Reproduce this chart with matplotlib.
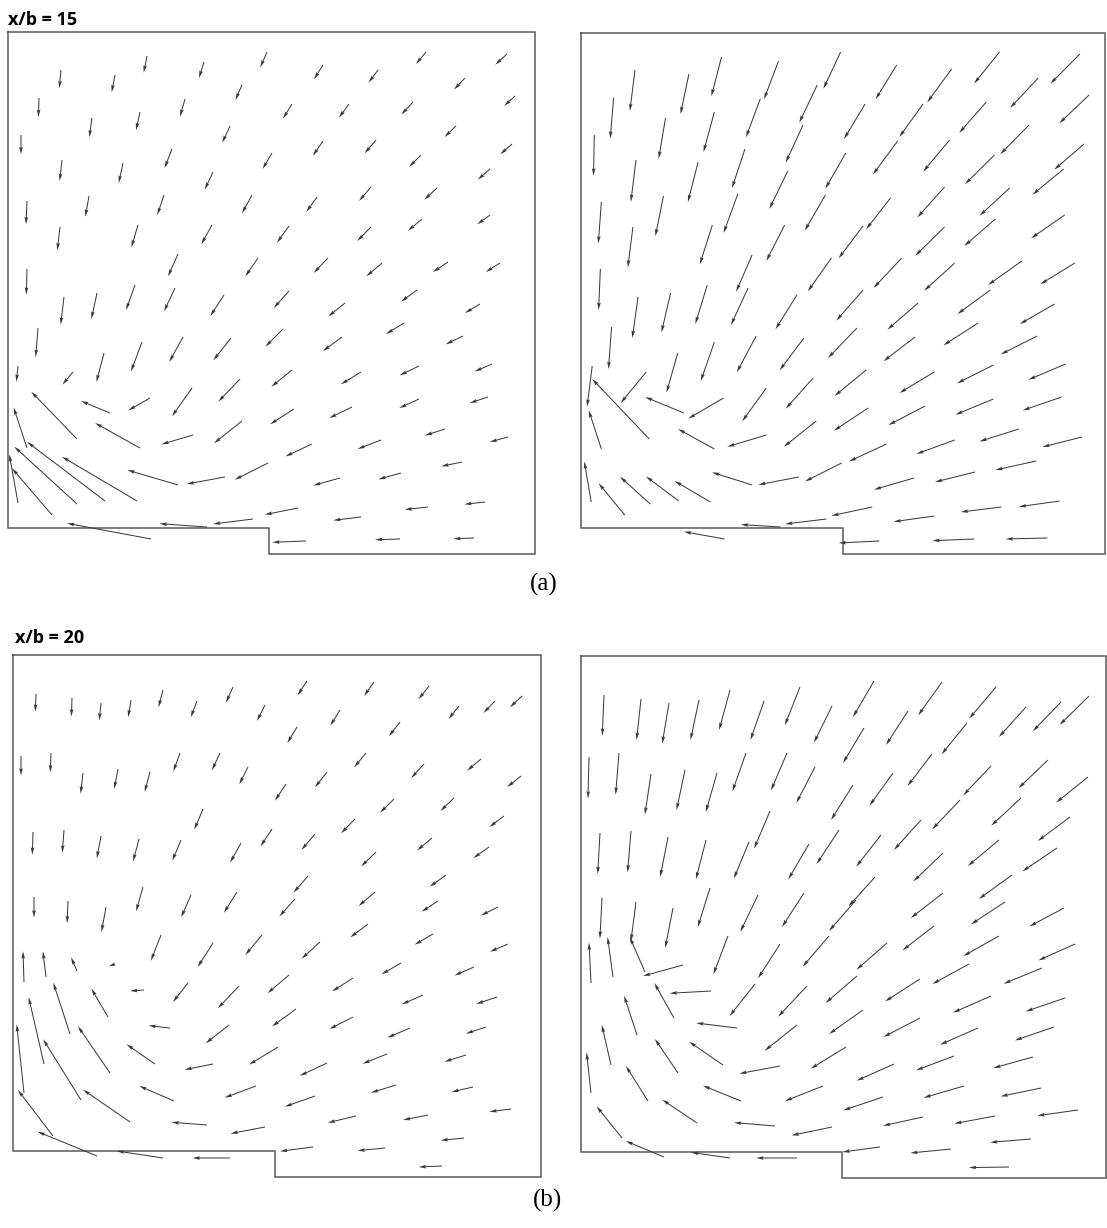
import numpy as np
import matplotlib
matplotlib.use("Agg")
import matplotlib.pyplot as plt

# ---------------- data: panel (a) x/b = 15, left ----------------
AL_X = [53,31,13,107,139,196,259,234,177,84,
        132,222,164,54,115,264,205,19,81,156,
        244,52,130,204,170,250,19,56,89,127,
        167,216,30,134,175,223,96,65,10,232,
        184,142,102,69,19,132,234,185,69,97,
        129,44,10,170,217,260,245,199,143,315,
        370,418,499,457,284,341,405,507,448,315,
        368,413,504,482,309,363,429,281,363,414,
        482,320,374,440,492,281,337,409,472,275,
        334,396,455,284,353,411,484,286,344,411,
        480,437,500,304,373,454,332,393,477,420,
        290,353,298,392,466]
AL_Y = [458,430,393,453,472,466,476,443,429,410,
        416,402,379,368,365,375,356,327,332,333,
        333,301,303,303,274,270,259,231,235,243,
        240,233,200,186,191,190,175,156,162,149,
        140,130,115,89,80,80,107,93,24,27,
        27,13,25,43,51,65,9,1,-11,463,
        458,476,474,450,424,424,426,432,402,387,
        388,373,384,359,331,341,340,302,301,309,
        313,270,265,266,265,237,225,238,224,199,
        191,205,192,158,156,162,164,119,121,129,
        131,99,91,84,88,66,50,55,26,21,
        20,11,-13,-11,-10]
AL_U = [-1.7,-0.6,0,-3.3,-3.3,-5,-6.7,-6.6,-5,-2.7,
        -4,-7.7,-7.4,-2.3,-4.3,-9.4,-8.3,-1,-3.6,-6.7,
        -10,-2.7,-6.6,-10.7,-10,-12.7,-0.7,-3.3,-5.6,-9,
        -11,-13.6,-2.3,-11,-13.7,-17.7,-7.6,-10.6,-1.6,-21.7,
        -20,-21.7,-29,-45.7,-13.4,-45,-28,-31.6,-62.7,-77.7,
        -75,-40,-8.7,-50.6,-38.3,-33.3,-40,-47.4,-84,-9,
        -9.4,-10,-11.7,-11,-9,-10,-11.6,-11,-11.4,-10,
        -11.4,-11.7,-11.7,-12.3,-10.7,-12,-12.7,-12,-13.7,-14,
        -12.7,-14.3,-15.7,-15,-14.3,-15.3,-16.7,-16,-15,-17.6,
        -19,-18,-17.3,-20.6,-20,-19.3,-17.3,-24,-22.7,-19.7,
        -18.3,-20,-18.3,-26.6,-23.4,-20.7,-26.7,-22.7,-20.7,-23.3,
        -33.3,-27.7,-33.7,-25,-20.7]
AL_V = [-18.3,-19,-19.3,-17.3,-16.7,-16,-15.4,-15,-17.7,-19.4,
        -18.3,-16.7,-19,-21,-20,-16,-17.6,-23.3,-20.7,-20,
        -18.3,-23.3,-22.3,-19.3,-22.4,-18.4,-25.7,-27.7,-26,-25,
        -23.4,-21,-29,-29.4,-25,-22.3,-29,-12.6,-15.7,-22.7,
        -28.3,-12.3,12,47.3,40.6,25,-22.3,-9.3,57.3,59,
        44.3,46.7,48.7,15,-7,-16.7,-5,3.3,15.7,-14.3,
        -12.7,-12,-10.7,-11.6,-14.7,-13.7,-12.6,-10,-11,-14.7,
        -13.3,-11.7,-10.3,-10.7,-15,-14,-11.7,-16.7,-14,-11.7,
        -9.3,-15,-13.4,-10,-9,-17,-13.4,-11.7,-9,-17.7,
        -14,-11,-8.3,-16.7,-12.3,-9.3,-7.4,-15.3,-11,-9,
        -6,-6.4,-5,-12.4,-9,-4.3,-7.4,-6.3,-2.3,-2.6,
        -6.6,-3.3,-1.3,-0.7,-0.7]

# ---------------- data: panel (a) x/b = 15, right ----------------
AR_X = [53,32,13,106,138,194,255,232,176,83,
        131,310,364,411,490,449,499,398,336,279,
        218,161,54,115,311,260,362,440,406,494,
        474,203,20,81,154,240,304,357,421,475,
        407,357,277,200,129,51,19,315,367,433,
        485,246,168,56,88,124,164,212,277,331,
        402,465,30,131,95,172,219,271,328,390,
        448,64,11,182,228,280,347,405,476,101,
        140,67,20,131,182,231,282,338,405,472,
        300,367,430,492,10,43,68,96,127,168,
        214,256,327,387,447,286,241,196,141,347,
        413,470,293,386,458]
AR_Y = [458,430,393,454,471,467,476,443,429,410,
        416,463,459,476,474,450,433,426,424,424,
        403,379,368,366,387,375,388,403,373,384,
        359,357,326,332,334,333,330,341,340,313,
        309,301,302,303,303,301,259,270,265,267,
        265,270,273,231,235,243,240,233,238,225,
        238,224,201,186,175,192,190,200,191,205,
        192,156,162,140,150,158,156,163,164,115,
        130,89,79,79,93,107,120,122,129,131,
        84,88,99,91,26,13,24,27,26,43,
        51,65,50,56,67,21,9,1,-11,12,
        21,27,-13,-11,-10]
AR_U = [-5,-3.3,-0.7,-8.3,-10,-14.3,-17,-17.7,-14,-6.7,
        -10.7,-20.7,-24,-25,-29,-27.7,-29.3,-26.6,-23.4,-20.7,
        -17,-12.7,-5,-10,-24.4,-20,-26,-28.3,-29,-29.3,
        -30.7,-18,-3,-8,-14,-20.3,-24,-26.7,-29.6,-33,
        -30.6,-28.7,-24,-18,-12.3,-5,-1.7,-27.7,-30,-33.3,
        -34,-23.3,-15.7,-5.6,-9,-11.7,-16.7,-21,-26.3,-30,
        -32.3,-34,-3,-13.4,-11,-19,-24,-28.4,-31,-34,
        -35.7,-25,-5,-23.7,-27,-31,-34.3,-35.7,-36.6,-38,
        -34.7,-56,-12.4,-35.7,-38.3,-31.7,-33.7,-36,-37.4,-38.3,
        -36.7,-37.7,-38.7,-39,-6.7,-25.7,-29.7,-32.3,-35,-39.3,
        -40,-36,-39.3,-39.4,-40,-40,-40.6,-39,-40,-40,
        -40,-40,-40,-41,-41]
AR_V = [-41,-40.6,-40.7,-40,-39.3,-38.3,-36.7,-37.7,-38.3,-40.7,
        -40,-34.3,-33.4,-31.7,-29.7,-30,-28.3,-31,-33,-35,
        -37.7,-39,-41.7,-40,-33.6,-35.6,-31.7,-29.3,-29.3,-25.7,
        -25.7,-38,-41.6,-40.3,-39,-35.7,-31.3,-30.4,-27.7,-23.3,
        -27,-28.7,-32.3,-36,-39.3,-40.4,-41,-30,-27.7,-24,
        -21.3,-33.4,-36.7,-41,-39.4,-39,-37,-34.3,-30.7,-26.6,
        -24,-20,-42,-39,-39.6,-36.3,-32.3,-30,-24.3,-22.3,
        -18.3,-31,-40.7,-33.3,-30.7,-26,-21,-18.3,-15.7,16,
        -20.6,60,38.6,20,-11.7,-25.7,-22.7,-19,-15.7,-13.4,
        -17.4,-14,-12.4,-10,40.6,31.7,27.3,24.7,21,12.7,
        -7.7,-18.4,-11.6,-10,-9,-8.7,-5,2.4,7.3,-5.7,
        -5,-5.7,-2,-1.7,-1]

# ---------------- data: panel (b) x/b = 20, left ----------------
BL_X = [23,59,88,118,150,184,220,252,294,361,
        416,446,482,509,327,284,387,8,38,70,
        105,137,167,207,235,273,314,353,411,468,
        508,381,441,20,51,88,126,168,190,228,
        259,302,342,419,491,363,476,433,295,21,
        55,93,130,178,224,282,362,425,485,148,
        200,249,307,355,420,495,11,33,64,102,
        175,226,276,340,388,461,131,410,484,57,
        31,95,157,216,283,340,397,473,11,68,
        97,142,200,265,314,374,453,161,117,40,
        84,243,302,383,460,498,194,252,343,415,
        300,372,451,150,217,429]
BL_Y = [457,453,448,451,461,450,464,446,470,469,
        465,445,450,455,441,424,429,395,398,378,
        382,379,398,398,384,367,379,398,387,392,
        375,352,353,319,321,315,312,311,342,308,
        322,317,332,313,335,299,304,276,275,254,
        250,244,264,256,259,252,259,250,244,216,
        208,216,209,227,217,207,169,174,180,187,
        168,165,176,173,188,184,161,156,154,117,
        87,134,123,126,142,134,123,124,58,51,
        78,87,87,104,88,97,96,50,29,15,
        -5,65,55,66,64,42,26,24,35,36,
        4,3,13,-7,-7,-15]
BL_U = [-0.7,-0.6,-1.7,-2.8,-4.5,-6.2,-7,-8,-9.4,-10,
        -10.5,-10.4,-11.5,-12.1,-9.7,-9.7,-11.1,0,-0.7,-2.4,
        -3.8,-5.3,-6.6,-8,-8.7,-11.1,-12.1,-11.9,-12.8,-13.9,
        -13.9,-13.9,-13.6,-0.7,-1.7,-4.2,-5.9,-8.7,-8.7,-10.8,
        -11.5,-13.6,-13.9,-14.9,-14.6,-14.9,-15.6,-16.3,-14.6,0,
        -0.9,-4.5,-6.9,-9.8,-13.2,-15.6,-16.4,-16.4,-17,-10.1,
        -15.3,-16.7,-18.4,-17.7,-18.4,-18.1,-1,-3.1,-5.9,-6.3,
        -15,-21.2,-21.6,-20.9,-19.5,-19.5,-13.9,-21.2,-20.8,-16.7,
        -15.3,-16.6,-21.5,-23.3,-23.9,-23.6,-22.6,-20.1,-7.3,-37.8,
        -32,-28.5,-28.5,-28.9,-27.1,-24.4,-21.6,-34.8,-46.9,-35.1,
        -59.4,-31.3,-30.3,-25,-21.5,-21.6,-35.4,-34.5,-28.2,-25,
        -33,-27.5,-23.3,-46.3,-37.5,-23.3]
BL_V = [-17.7,-18.4,-17.4,-17.3,-17.3,-16.3,-15.6,-16,-14.3,-14,
        -13.3,-13,-12,-11.3,-15.7,-16,-14.3,-19.7,-19.4,-20.7,
        -20,-20,-18.3,-17.3,-17.3,-16.7,-15.4,-14.4,-14,-11.7,
        -11,-13.7,-13,-22.7,-22.7,-22.3,-22.4,-20.7,-20.7,-19.6,
        -17.4,-16,-14.3,-12.4,-11,-14.4,-11,-11.7,-16.7,-20.6,
        -22.3,-25,-24.3,-22.3,-21,-17.4,-14,-10.7,-8.4,-25.7,
        -24,-20,-16.7,-13.4,-10.7,-7.7,30.7,25.7,13.7,-2.4,
        -19,-22.3,-18.3,-13.4,-11.3,-8.4,-1,-9.3,-7,51.3,
        66.7,28.4,2.4,-18.3,-17.4,-12,-9.6,-6.6,68.7,60.7,
        46.7,19.7,-5.7,-17.6,-12.7,-9.7,-6.7,15,32.3,46,
        24.3,-11.6,-10.7,-7.7,-5,-2.7,2.7,-6.6,-6.7,-5,
        -4.3,-2.7,-2.4,7,0,-1]

# ---------------- data: panel (b) x/b = 20, right ----------------
BR_X = [23,60,88,118,149,183,219,251,293,361,
        415,445,480,508,327,283,386,8,38,70,
        104,136,165,206,234,272,312,351,410,467,
        507,379,440,19,50,87,125,168,189,228,
        258,300,340,418,489,362,476,431,294,21,
        55,92,129,177,223,275,362,424,483,147,
        199,248,306,353,418,494,10,32,64,102,
        130,174,226,276,339,388,461,410,484,56,
        30,93,156,216,282,339,397,473,10,67,
        97,142,199,265,313,373,452,160,116,41,
        83,242,302,383,460,497,194,251,342,414,
        299,370,450,149,216,428]
BR_Y = [457,453,449,452,462,451,465,446,471,470,
        465,445,450,456,441,424,429,395,399,378,
        382,379,399,399,385,367,379,398,386,392,
        375,352,354,319,321,315,312,310,341,308,
        322,317,332,312,335,299,304,277,275,254,
        250,244,264,257,259,252,259,250,244,216,
        208,216,209,226,216,208,169,175,180,187,
        161,168,166,176,173,188,184,156,154,117,
        87,134,124,127,142,134,124,125,59,51,
        79,87,86,105,88,96,95,51,29,14,
        -5,66,55,66,64,42,26,25,35,36,
        5,3,13,-6,-6,-15]
BR_U = [-1.7,-4.4,-6.8,-8.5,-10.9,-13.5,-15.2,-18,-21,-23.8,
        -26.8,-27.1,-28.2,-29.5,-22,-21,-25.4,-1,-3.4,-6.1,
        -8.5,-11.2,-13.6,-16,-18.7,-22,-23.5,-24.5,-27.8,-29.6,
        -31.9,-27.8,-29.8,-2.3,-3.4,-7.8,-10.1,-15.2,-15.9,-20.7,
        -22.4,-24.8,-27.1,-31.2,-32.2,-29.6,-34.7,-33.2,-26.4,-2.1,
        -5.1,-7.8,-12.2,-17.6,-22,-27,-32.2,-34,-34.6,-14.6,
        -22,-26.4,-30.5,-31.5,-35.7,-36.6,-2,-5.4,-15.3,-40,
        -41.4,-25.4,-28.9,-31.5,-34.9,-36.6,-38.4,-38,-39.3,-12.9,
        -9.2,-19.7,-40.8,-32.3,-33.9,-36.6,-38,-39.1,-4.4,-22.1,
        -23.1,-33.9,-40.7,-35.3,-37.4,-38,-39.7,-38,-34.7,-25.4,
        -38.3,-38,-39.7,-40.4,-40.4,-40.7,-41,-40.4,-40,-40.7,
        -37.6,-40.7,-41,-39,-40.8,-40.1]
BR_V = [-40.7,-41,-40.7,-40,-40,-39,-38.3,-36.6,-36,-33.4,
        -31.6,-30,-29.3,-29,-34,-35,-31.3,-41.6,-41.7,-40.7,
        -40,-39,-38.4,-37.4,-36,-35,-32.7,-32,-29.3,-28.3,
        -25.6,-29.3,-27.7,-41,-41.3,-40,-39.3,-36.6,-37.6,-35.3,
        -34,-31.7,-30,-26,-24,-28.4,-23.4,-24,-29.3,-40.6,
        -39.4,-40,-39,-36.7,-34,-31,-25,-22.3,-18.4,-38.3,
        -34.3,-30.7,-26.7,-24.3,-20,-16.4,40.4,40,35,-11,
        -2.3,-32,-30.7,-27,-22.4,-20,-15.7,-16.6,-13.4,39.3,
        40,35,5,-25.7,-24,-19,-16.7,-13.4,40.6,35,
        34,23.3,-7.6,-21.7,-16.7,-14.3,-11,15.3,23.3,31.7,
        16,-15,-13.3,-11.7,-8.4,-5.7,3.4,-8.4,-8.7,-7.6,
        -5,-4,-3.4,5.6,0,-0.6]

# duct cross-section outline (local units: width, height above wall, step position, step depth)
DUCT_W = [527, 514.6, 527.5, 525]
DUCT_H = [496, 495, 496, 496]
STEP_X = [261, 257.3, 261.6, 261]
STEP_D = [-26, -26, -26.3, -26.3]

PANEL_LABELS = ["(a)", "(b)"]
ROW_TITLES = ["x/b = 15", "x/b = 20"]

# ---------------- figure ----------------
W, H = 1107, 1228
fig = plt.figure(figsize=(W / 100, H / 100), dpi=100)
fig.patch.set_facecolor("white")

# pixel boxes for the four panels (left, top, right, bottom)
boxes = [(8, 32, 535, 554), (581, 33, 1105, 554),
         (13, 655, 540.5, 1177.3), (581, 656, 1106, 1178.3)]
datasets = [(AL_X, AL_Y, AL_U, AL_V), (AR_X, AR_Y, AR_U, AR_V),
            (BL_X, BL_Y, BL_U, BL_V), (BR_X, BR_Y, BR_U, BR_V)]

for i, ((l, t, r, b), (X, Y, U, V)) in enumerate(zip(boxes, datasets)):
    ax = fig.add_axes([l / W, 1 - b / H, (r - l) / W, (b - t) / H])
    ax.set_xlim(0, DUCT_W[i])
    ax.set_ylim(STEP_D[i], DUCT_H[i])
    ax.axis("off")
    ax.plot([0, DUCT_W[i], DUCT_W[i], STEP_X[i], STEP_X[i], 0, 0],
            [DUCT_H[i], DUCT_H[i], STEP_D[i], STEP_D[i], 0, 0, DUCT_H[i]],
            color="#5a5a5a", lw=1.1, clip_on=False, solid_joinstyle="miter")
    q = ax.quiver(np.array(X, float), np.array(Y, float),
                  np.array(U, float), np.array(V, float),
                  angles="xy", scale_units="xy", scale=1,
                  units="dots", width=1.0, headwidth=3.6, headlength=7.5,
                  headaxislength=6.5, minlength=0.5,
                  color="#383838", zorder=3)
    q.set_clip_on(False)

# titles and panel labels
fig.text(8 / W, 1 - 25 / H, ROW_TITLES[0], fontsize=13, fontweight="bold",
         family="Open Sans", ha="left", va="baseline")
fig.text(15 / W, 1 - 643 / H, ROW_TITLES[1], fontsize=13, fontweight="bold",
         family="Open Sans", ha="left", va="baseline")
fig.text(544 / W, 1 - 584 / H, PANEL_LABELS[0], fontsize=18,
         family="Liberation Serif", ha="center", va="center")
fig.text(547 / W, 1 - 1200 / H, PANEL_LABELS[1], fontsize=18,
         family="Liberation Serif", ha="center", va="center")

fig.savefig("out.png", dpi=100, facecolor="white")
